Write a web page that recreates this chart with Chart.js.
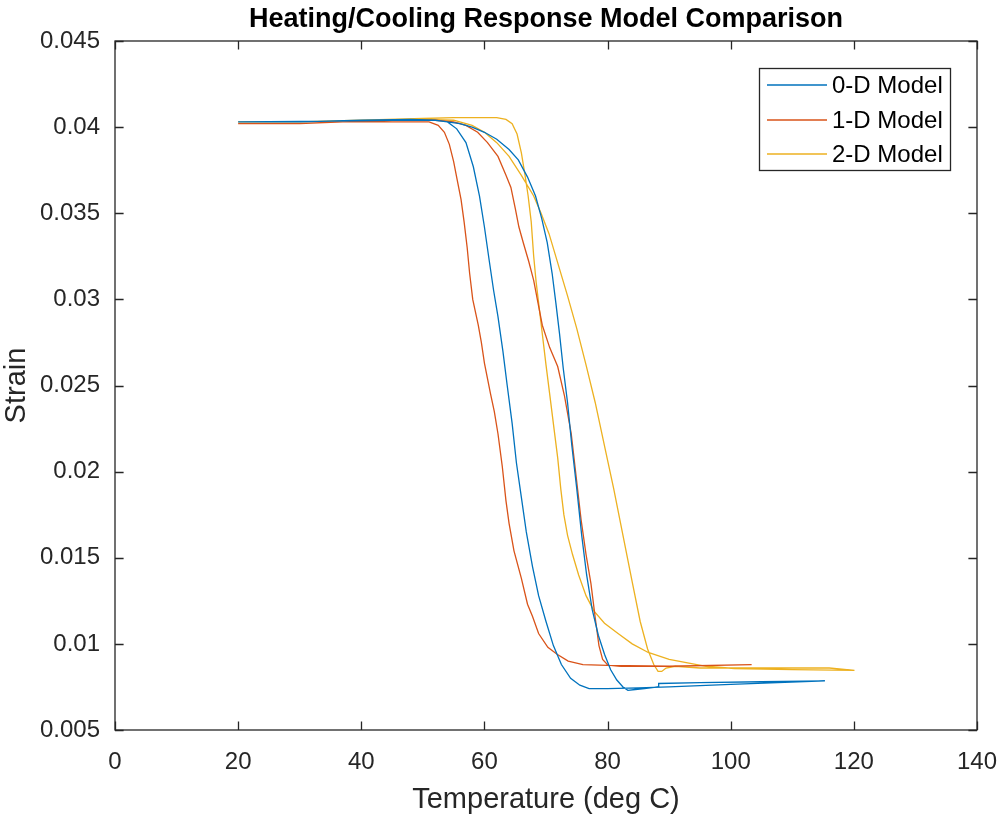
<!DOCTYPE html>
<html>
<head>
<meta charset="utf-8">
<title>Heating/Cooling Response Model Comparison</title>
<script src="https://cdn.jsdelivr.net/npm/chart.js@4.4.1/dist/chart.umd.min.js"></script>
<style>
  html, body { margin: 0; padding: 0; background: #fff; }
  #chart { display: block; }
</style>
</head>
<body>
<canvas id="chart" width="998" height="819"></canvas>
<script>
// ----- Data (each loop = heating path, then cooling path back) -----
const model0T = [20, 30, 40, 48, 52, 54, 56, 58, 60, 62, 64, 65.5, 67, 68.3, 69.3, 70.2, 71, 71.6, 72.2, 72.8, 73.5, 74.2, 75, 75.8, 76.6, 77.5, 78.5, 79.5, 80.5, 81.5, 82.5, 83.3, 84.5, 86, 88.2, 88.3, 95, 105, 115.3,
                 100, 90, 85, 80, 77, 75.5, 74, 72.5, 71.2, 70, 68.8, 67.8, 66.8, 66, 65.2, 64.5, 63.7, 63, 62.2, 61.5, 60.8, 60, 59.2, 58.2, 57, 55.5, 54, 52, 45, 35, 20];
const model0Strain = [0.0403, 0.0403, 0.0404, 0.04045, 0.0404, 0.0403, 0.0402, 0.0400, 0.0397, 0.0393, 0.0387, 0.0381, 0.0371, 0.0360, 0.0347, 0.0333, 0.0315, 0.0298, 0.0280, 0.0260, 0.0240, 0.0215, 0.0190, 0.0163, 0.0140, 0.0120, 0.0105, 0.0094, 0.0085, 0.0079, 0.0075, 0.0073, 0.00735, 0.0074, 0.0075, 0.0077, 0.00775, 0.0078, 0.00785,
                      0.00765, 0.0075, 0.00745, 0.0074, 0.0074, 0.0076, 0.0080, 0.0088, 0.0099, 0.0113, 0.0128, 0.0145, 0.0165, 0.0185, 0.0205, 0.0228, 0.0250, 0.0270, 0.0290, 0.0305, 0.0322, 0.0342, 0.0360, 0.0377, 0.0391, 0.0399, 0.0403, 0.0404, 0.0404, 0.04035, 0.0403];

const model1T = [20, 30, 37, 45, 52, 55, 57, 58.9, 60.5, 62.2, 63.5, 64.3, 65, 65.6, 66.3, 67.2, 68, 68.7, 69.4, 70.6, 71.9, 73, 74.1, 74.9, 75.7, 76.5, 77.3, 78, 78.6, 79.2, 80.1, 82, 90, 103.4,
                 90, 80, 76, 73.6, 71.8, 70.3, 68.8, 67.8, 67, 66, 64.8, 64, 63.5, 62.9, 62.2, 61.6, 61, 60.5, 60, 59.5, 59, 58.1, 57.6, 57.2, 56.7, 56.2, 55.6, 55, 54.3, 53.5, 52.5, 51, 45, 36, 30, 20];
const model1Strain = [0.0402, 0.0402, 0.0403, 0.0404, 0.0404, 0.0403, 0.0401, 0.0397, 0.0391, 0.0383, 0.0372, 0.0365, 0.0353, 0.0342, 0.0333, 0.0322, 0.0311, 0.0298, 0.0285, 0.0272, 0.0261, 0.0244, 0.0222, 0.0197, 0.0172, 0.0152, 0.0135, 0.0115, 0.0099, 0.0091, 0.00875, 0.0087, 0.0087, 0.0088,
                      0.0087, 0.00875, 0.0088, 0.0090, 0.0094, 0.0098, 0.0106, 0.0116, 0.0123, 0.0138, 0.0154, 0.0170, 0.0183, 0.0203, 0.0222, 0.0235, 0.0245, 0.0254, 0.0263, 0.0275, 0.0285, 0.0300, 0.0315, 0.0330, 0.0345, 0.0358, 0.0369, 0.0380, 0.0390, 0.0397, 0.0401, 0.0403, 0.0403, 0.0403, 0.0402, 0.0402];

const model2T = [20, 30, 40, 50, 55, 58, 60, 62, 64, 66, 68, 69.2, 70.5, 72, 73.5, 75, 76.5, 78, 79.5, 81, 82.5, 84, 85.3, 86.5, 87.5, 88.2, 88.8, 89.5, 91, 95, 105, 116, 120.1,
                 110, 100.6, 96, 93, 90, 86.6, 84, 81.7, 79.5, 77.8, 76.5, 75.3, 74.3, 73.5, 72.9, 72.4, 71.9, 71.3, 70.6, 70, 69.4, 68.9, 68.4, 68, 67.6, 67.1, 66.6, 66, 65.3, 64.5, 63.5, 62, 55, 50, 40, 30, 20];
const model2Strain = [0.0403, 0.0403, 0.0404, 0.04045, 0.0404, 0.0401, 0.0397, 0.0391, 0.0383, 0.0372, 0.0360, 0.0350, 0.0338, 0.0320, 0.0302, 0.0283, 0.0262, 0.0240, 0.0215, 0.0190, 0.0163, 0.0136, 0.0113, 0.0097, 0.0088, 0.0084, 0.0084, 0.0086, 0.0087, 0.0086, 0.0086, 0.0086, 0.00846,
                      0.0085, 0.00857, 0.0087, 0.0089, 0.0091, 0.0095, 0.0100, 0.0106, 0.0112, 0.0119, 0.0128, 0.0140, 0.0152, 0.0163, 0.0175, 0.0190, 0.0208, 0.0225, 0.0245, 0.0262, 0.0280, 0.0295, 0.0310, 0.0325, 0.0345, 0.0360, 0.0372, 0.0385, 0.0396, 0.0402, 0.04045, 0.04055, 0.04055, 0.0405, 0.0404, 0.0403, 0.0403];

const seriesLabels = ['0-D Model', '1-D Model', '2-D Model'];
const seriesColors = ['#0072BD', '#D95319', '#EDB120'];

const xTicks = { min: 0, max: 140, step: 20 };
const yTicks = { min: 0.005, max: 0.045, step: 0.005 };

// ----- Helpers -----
const FONT = '"Liberation Sans", Arial, Helvetica, sans-serif';
const AXIS_COLOR = '#262626';
const toPoints = (xs, ys) => xs.map((x, i) => ({ x, y: ys[i] }));

// box round the plot with inward ticks on all four sides, like MATLAB
const boxTicks = {
  id: 'boxTicks',
  afterDraw(chart) {
    const { ctx, chartArea: a, scales } = chart;
    const len = 8.6;
    ctx.save();
    ctx.strokeStyle = AXIS_COLOR;
    ctx.lineWidth = 1.3;
    ctx.strokeRect(a.left, a.top, a.right - a.left, a.bottom - a.top);
    ctx.beginPath();
    scales.x.ticks.forEach(t => {
      const px = Math.round(scales.x.getPixelForValue(t.value)) + 0.5;
      ctx.moveTo(px, a.bottom); ctx.lineTo(px, a.bottom - len);
      ctx.moveTo(px, a.top);    ctx.lineTo(px, a.top + len);
    });
    scales.y.ticks.forEach(t => {
      const py = Math.round(scales.y.getPixelForValue(t.value)) + 0.5;
      ctx.moveTo(a.left, py);  ctx.lineTo(a.left + len, py);
      ctx.moveTo(a.right, py); ctx.lineTo(a.right - len, py);
    });
    ctx.stroke();
    ctx.restore();
  }
};

// legend box in the upper right corner of the plot
const boxLegend = {
  id: 'boxLegend',
  afterDraw(chart) {
    const { ctx } = chart;
    const left = 759, top = 68, width = 191, height = 102;
    const rowY = [85, 120, 154];
    ctx.save();
    ctx.fillStyle = '#fff';
    ctx.fillRect(left, top, width, height);
    ctx.strokeStyle = AXIS_COLOR;
    ctx.lineWidth = 1.3;
    ctx.strokeRect(left + 0.5, top + 0.5, width, height);
    ctx.font = '24px ' + FONT;
    ctx.textBaseline = 'middle';
    chart.data.datasets.forEach((ds, i) => {
      ctx.strokeStyle = ds.borderColor;
      ctx.lineWidth = 1.5;
      ctx.beginPath();
      ctx.moveTo(767, rowY[i]); ctx.lineTo(827, rowY[i]);
      ctx.stroke();
      ctx.fillStyle = '#000';
      ctx.fillText(ds.label, 832, rowY[i] + 1);
    });
    ctx.restore();
  }
};

const datasets = [
  toPoints(model0T, model0Strain),
  toPoints(model1T, model1Strain),
  toPoints(model2T, model2Strain)
].map((pts, i) => ({
  label: seriesLabels[i],
  data: pts,
  showLine: true,
  borderColor: seriesColors[i],
  backgroundColor: seriesColors[i],
  borderWidth: 1.3,
  pointRadius: 0,
  tension: 0,
  fill: false
}));

// ----- Init -----
new Chart(document.getElementById('chart'), {
  type: 'scatter',
  data: { datasets },
  plugins: [boxTicks, boxLegend],
  options: {
    responsive: false,
    animation: false,
    layout: { padding: { left: 0, right: 21, top: 0, bottom: 0 } },
    plugins: {
      legend: { display: false },
      tooltip: { enabled: false },
      title: {
        display: true,
        fullSize: false, // centre over the plot area, not the canvas
        text: 'Heating/Cooling Response Model Comparison',
        color: '#000',
        font: { family: FONT, size: 27, weight: 'bold', lineHeight: 1.2 },
        padding: { top: 3, bottom: 5.6 }
      }
    },
    scales: {
      x: {
        type: 'linear',
        min: xTicks.min,
        max: xTicks.max,
        grid: { display: false, drawTicks: false },
        border: { display: false },
        ticks: { stepSize: xTicks.step, color: AXIS_COLOR, padding: 18, maxRotation: 0,
                 font: { family: FONT, size: 24 } },
        title: { display: true, text: 'Temperature (deg C)', color: AXIS_COLOR,
                 font: { family: FONT, size: 29 }, padding: { top: 0, bottom: 2 } },
        // fixed height; label overhang is covered by the layout padding
        afterFit: s => { s.height = 89; s.paddingRight = 0; s.paddingLeft = 0; }
      },
      y: {
        type: 'linear',
        min: yTicks.min,
        max: yTicks.max,
        grid: { display: false, drawTicks: false },
        border: { display: false },
        ticks: { stepSize: yTicks.step, color: AXIS_COLOR, padding: 15,
                 font: { family: FONT, size: 24 },
                 callback: v => String(parseFloat(v.toFixed(3))) },
        title: { display: true, text: 'Strain', color: AXIS_COLOR,
                 font: { family: FONT, size: 29 }, padding: { top: 0, bottom: 0 } },
        afterFit: s => { s.width = 115; }
      }
    }
  }
});
</script>
</body>
</html>
